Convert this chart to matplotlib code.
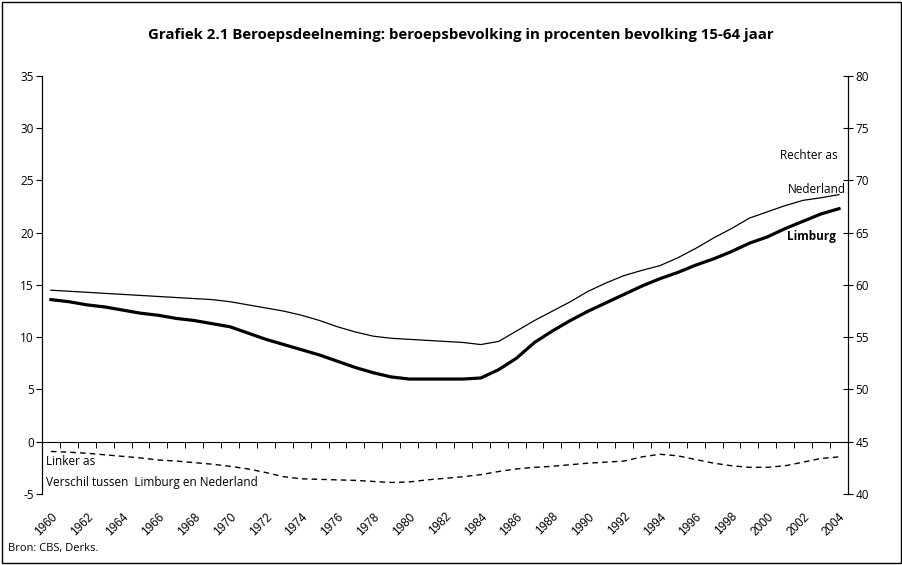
import matplotlib
matplotlib.use("Agg")
import matplotlib.pyplot as plt
import numpy as np

plt.rcParams['font.family'] = ['Open Sans', 'DejaVu Sans']

years = list(range(1960, 2005))

# beroepsdeelneming, rechter as (procent)
nederland = [59.5, 59.4, 59.3, 59.2, 59.1, 59.0, 58.9, 58.8, 58.7, 58.6,
             58.4, 58.1, 57.8, 57.5, 57.1, 56.6, 56.0, 55.5, 55.1, 54.9,
             54.8, 54.7, 54.6, 54.5, 54.3, 54.6, 55.6, 56.6, 57.5, 58.4,
             59.4, 60.2, 60.9, 61.4, 61.85, 62.6, 63.5, 64.5, 65.4, 66.4,
             67.0, 67.6, 68.1, 68.35, 68.65]
limburg = [58.6, 58.4, 58.1, 57.9, 57.6, 57.3, 57.1, 56.8, 56.6, 56.3,
           56.0, 55.4, 54.8, 54.3, 53.8, 53.3, 52.7, 52.1, 51.6, 51.2,
           51.0, 51.0, 51.0, 51.0, 51.1, 51.9, 53.0, 54.5, 55.6, 56.6,
           57.5, 58.3, 59.1, 59.9, 60.6, 61.2, 61.9, 62.5, 63.2, 64.0,
           64.6, 65.4, 66.1, 66.8, 67.3]
# verschil Limburg - Nederland, linker as
verschil = [-0.93, -1.0, -1.1, -1.25, -1.4, -1.55, -1.75, -1.85, -2.0, -2.15,
            -2.35, -2.6, -2.95, -3.35, -3.55, -3.6, -3.65, -3.7, -3.8, -3.9,
            -3.85, -3.65, -3.5, -3.35, -3.15, -2.85, -2.6, -2.45, -2.35, -2.2,
            -2.05, -1.95, -1.85, -1.45, -1.2, -1.35, -1.7, -2.05, -2.3, -2.45,
            -2.45, -2.3, -1.95, -1.6, -1.45]

left_ticks = [-5, 0, 5, 10, 15, 20, 25, 30, 35]
right_ticks = [40, 45, 50, 55, 60, 65, 70, 75, 80]
label_years = years[::2]

fig = plt.figure(figsize=(9.03, 5.65), dpi=100)
ax = fig.add_axes([0.0465, 0.1257, 0.8925, 0.7398])
ax2 = ax.twinx()

ax.set_xlim(1959.5, 2004.5)
ax.set_ylim(-5, 35)
ax2.set_ylim(40, 80)

ax.plot(years, verschil, color='black', lw=1.0, ls=(0, (4, 3)))
ax2.plot(years, nederland, color='black', lw=0.9)
ax2.plot(years, limburg, color='black', lw=2.3)

for a in (ax, ax2):
    a.spines['top'].set_visible(False)
    a.spines['bottom'].set_visible(False)
ax.spines['left'].set_linewidth(0.8)
ax2.spines['right'].set_linewidth(0.8)

ax.set_yticks(left_ticks)
ax.set_yticklabels([str(t) for t in left_ticks])
ax.tick_params(axis='y', direction='out', length=4, width=0.8, labelsize=8.5, pad=2)
ax2.set_yticks(right_ticks)
ax2.tick_params(axis='y', direction='inout', length=7, width=0.8, labelsize=8.5, pad=2)

# jaartallen onderaan
ax.set_xticks(label_years)
ax.set_xticklabels([str(y) for y in label_years], rotation=45, ha='right',
                   va='top', rotation_mode='anchor', fontsize=8.5,
                   family=['Liberation Sans', 'DejaVu Sans'])
ax.tick_params(axis='x', length=0, pad=12)

# nullijn met streepjes
ax.axhline(0, color='black', lw=0.8)
sec = ax.secondary_xaxis(5 / 40)
sec.spines['bottom'].set_visible(False)
sec.set_xticks(np.arange(1960.5, 2004, 1.0))
sec.tick_params(axis='x', direction='out', length=4, width=0.7, labelbottom=False)

ax.text(1959.75, -1.9, 'Linker as', fontsize=8.5, va='center')
ax.text(1959.75, -3.9, 'Verschil tussen  Limburg en Nederland', fontsize=8.5, va='center')
ax2.text(2003.9, 72.4, 'Rechter as', fontsize=8.5, ha='right', va='center')
ax2.text(2004.4, 69.1, 'Nederland', fontsize=8.5, ha='right', va='center')
ax2.text(2003.8, 64.6, 'Limburg', fontsize=8.5, ha='right', va='center', fontweight='bold')

fig.text(0.51, 0.938, 'Grafiek 2.1 Beroepsdeelneming: beroepsbevolking in procenten bevolking 15-64 jaar',
         ha='center', va='center', fontsize=10.8, fontweight='bold')
fig.text(0.009, 0.030, 'Bron: CBS, Derks.', fontsize=8, va='center')

fig.add_artist(plt.Rectangle((0.002, 0.004), 0.996, 0.992, transform=fig.transFigure,
                             fill=False, edgecolor='black', lw=1.0))

fig.savefig('out.png', dpi=100)
